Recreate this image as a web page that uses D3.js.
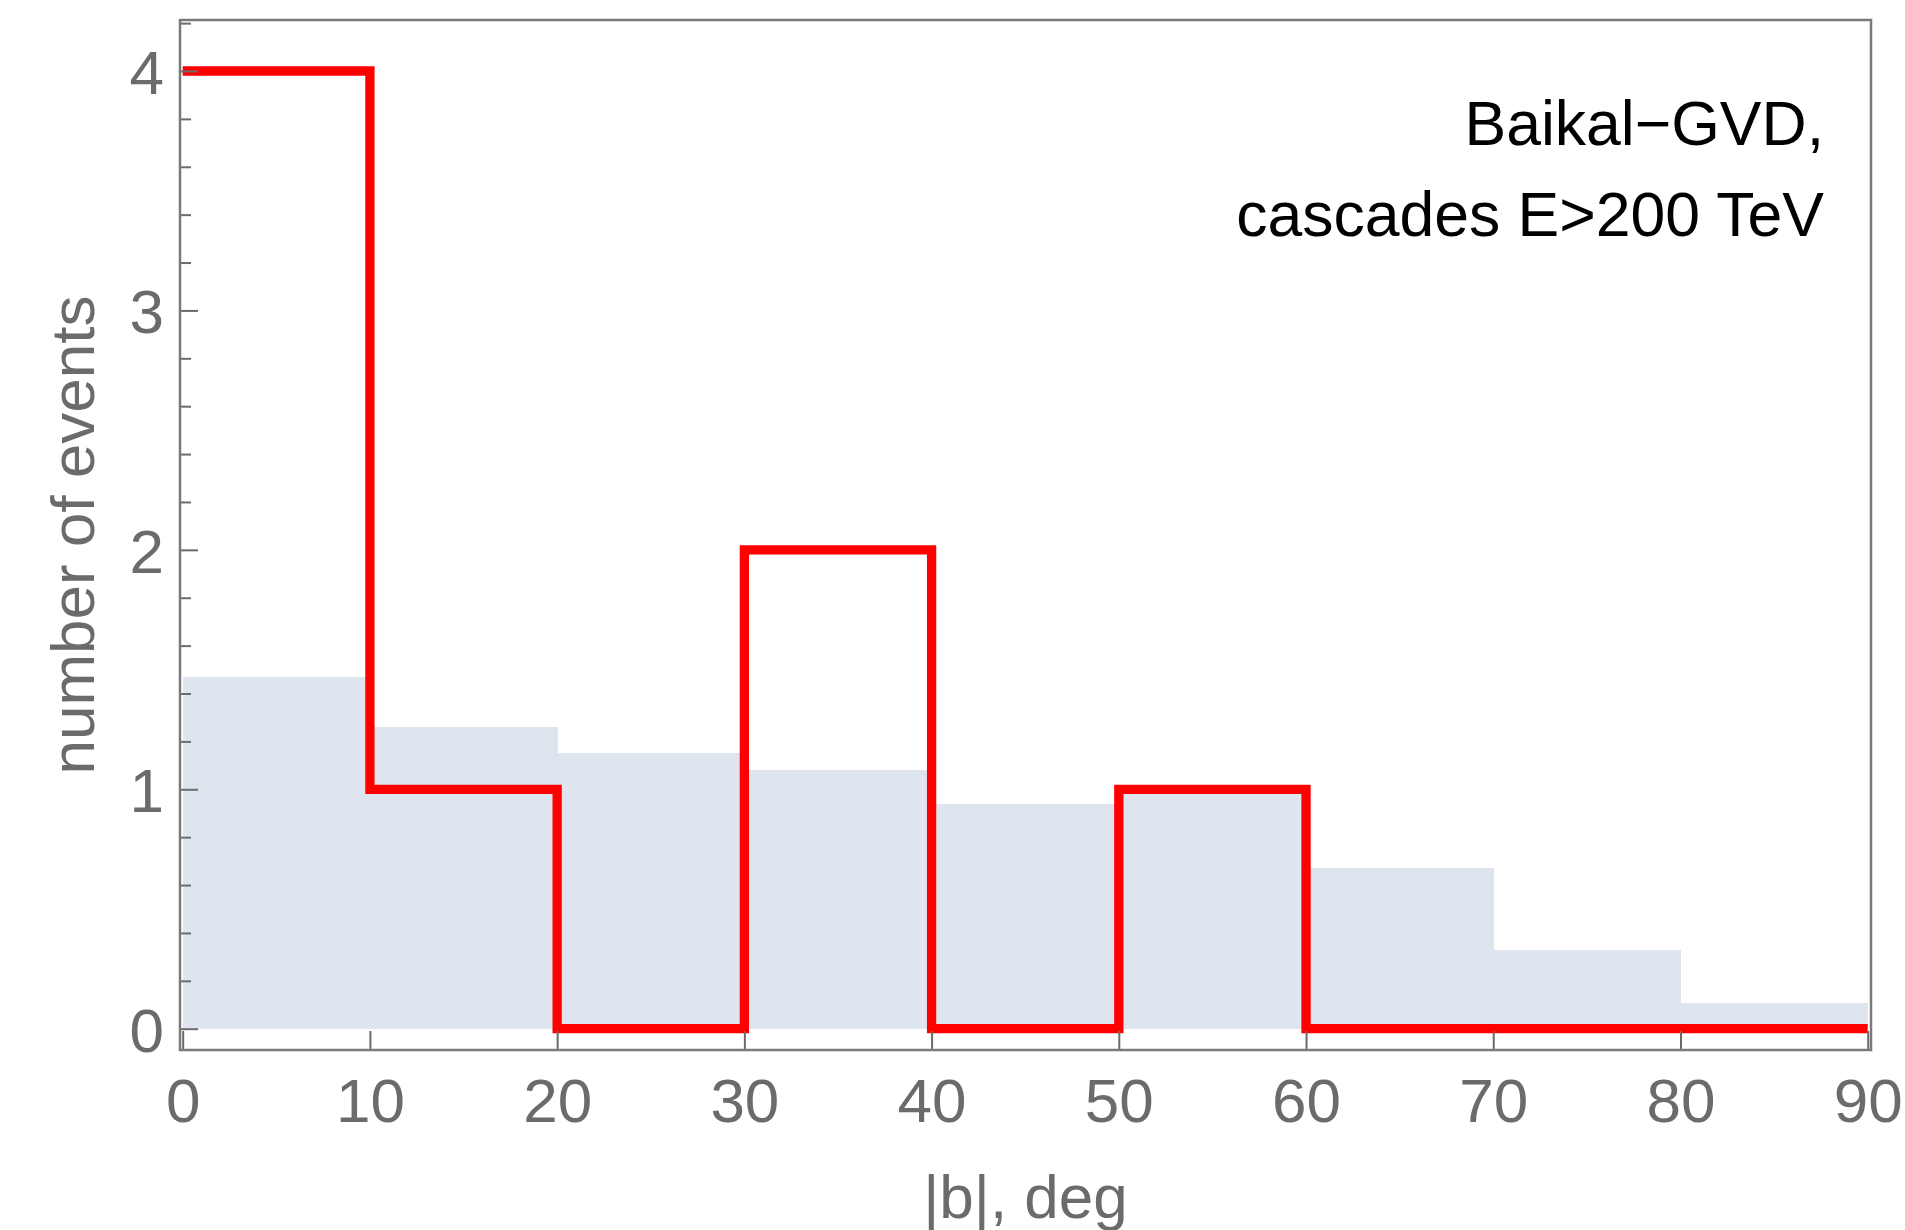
<!DOCTYPE html>
<html>
<head>
<meta charset="utf-8">
<script src="https://cdn.jsdelivr.net/npm/d3@7"></script>
<style>
  body { margin: 0; background: #fff; }
  svg text { font-family: "Liberation Sans", Arial, sans-serif; }
</style>
</head>
<body>
<div id="chart"></div>
<script>
// Bin edges in |b| (deg)
var binEdges = [0, 10, 20, 30, 40, 50, 60, 70, 80, 90];
// Observed cascades per bin (red histogram)
var observed = [4, 1, 0, 2, 0, 1, 0, 0, 0];
// Expected isotropic distribution (shaded)
var expected = [1.47, 1.26, 1.15, 1.08, 0.94, 1.0, 0.67, 0.33, 0.106];
// Tick values
var xTicks = [0, 10, 20, 30, 40, 50, 60, 70, 80, 90];
var yTicks = [0, 1, 2, 3, 4];
var yMinor = d3.range(0, 4.21, 0.2).filter(v => Math.abs(v - Math.round(v)) > 1e-6);
var noteLines = ["Baikal\u2212GVD,", "cascades E>200 TeV"];

var W = 1905, H = 1230;
var frame = {left: 180, top: 20, right: 1871, bottom: 1050};
var gray = "#6b6b6b";

var svg = d3.select("#chart")
    .append("svg")
        .attr("width", W)
        .attr("height", H);

// Scales
var x = d3.scaleLinear().domain([0, 90]).range([182.7, 1867.7]);
var y = d3.scaleLinear().domain([0, 4]).range([1028.7, 71]);

// Shaded expected bins
svg.append("g")
    .selectAll("rect")
    .data(expected)
    .enter().append("rect")
    .attr("x", (d, i) => x(binEdges[i]))
    .attr("width", (d, i) => x(binEdges[i + 1]) - x(binEdges[i]) + 0.5)
    .attr("y", d => y(d))
    .attr("height", d => y(0) - y(d))
    .attr("fill", "#dfe5ef")
    .attr("shape-rendering", "crispEdges");

// Observed histogram as a step line
var pts = binEdges.map((e, i) => [e, observed[Math.min(i, observed.length - 1)]]);
var step = d3.line()
    .x(d => x(d[0]))
    .y(d => y(d[1]))
    .curve(d3.curveStepAfter);

svg.append("path")
    .datum(pts)
    .attr("d", step)
    .attr("fill", "none")
    .attr("stroke", "#ff0000")
    .attr("stroke-width", 9.3)
    .attr("stroke-linejoin", "miter");

// X axis (ticks pointing inward)
var xAxis = svg.append("g")
    .attr("transform", "translate(0," + frame.bottom + ")")
    .call(d3.axisBottom(x).tickValues(xTicks).tickSizeInner(-19).tickSizeOuter(0).tickPadding(28));
xAxis.select(".domain").remove();
xAxis.selectAll("line").attr("stroke", gray).attr("stroke-width", 2);
xAxis.selectAll("text").attr("fill", gray).style("font-size", "62px");

// Y axis minor ticks
var yMin = svg.append("g")
    .attr("transform", "translate(" + frame.left + ",0)")
    .call(d3.axisLeft(y).tickValues(yMinor).tickSizeInner(-11).tickSizeOuter(0).tickFormat(""));
yMin.select(".domain").remove();
yMin.selectAll("line").attr("stroke", gray).attr("stroke-width", 2);

// Y axis major ticks
var yAxis = svg.append("g")
    .attr("transform", "translate(" + frame.left + ",0)")
    .call(d3.axisLeft(y).tickValues(yTicks).tickSizeInner(-18).tickSizeOuter(0).tickPadding(16).tickFormat(d3.format("d")));
yAxis.select(".domain").remove();
yAxis.selectAll("line").attr("stroke", gray).attr("stroke-width", 2);
yAxis.selectAll("text").attr("fill", gray).style("font-size", "62px").attr("dy", "0.36em");

// Frame
svg.append("rect")
    .attr("x", frame.left)
    .attr("y", frame.top)
    .attr("width", frame.right - frame.left)
    .attr("height", frame.bottom - frame.top)
    .attr("fill", "none")
    .attr("stroke", "#7a7a7a")
    .attr("stroke-width", 2.5);

// Axis labels
svg.append("text")
    .attr("x", (frame.left + frame.right) / 2)
    .attr("y", 1218)
    .attr("text-anchor", "middle")
    .attr("fill", gray)
    .style("font-size", "62px")
    .text("|b|, deg");

svg.append("text")
    .attr("transform", "rotate(-90)")
    .attr("x", -(frame.top + frame.bottom) / 2)
    .attr("y", 94)
    .attr("text-anchor", "middle")
    .attr("fill", gray)
    .style("font-size", "62px")
    .text("number of events");

// Annotation
svg.append("g")
    .selectAll("text")
    .data(noteLines)
    .enter().append("text")
    .attr("x", 1824)
    .attr("y", (d, i) => 145 + i * 91)
    .attr("text-anchor", "end")
    .attr("fill", "#000")
    .style("font-size", "62.5px")
    .text(d => d);
</script>
</body>
</html>
